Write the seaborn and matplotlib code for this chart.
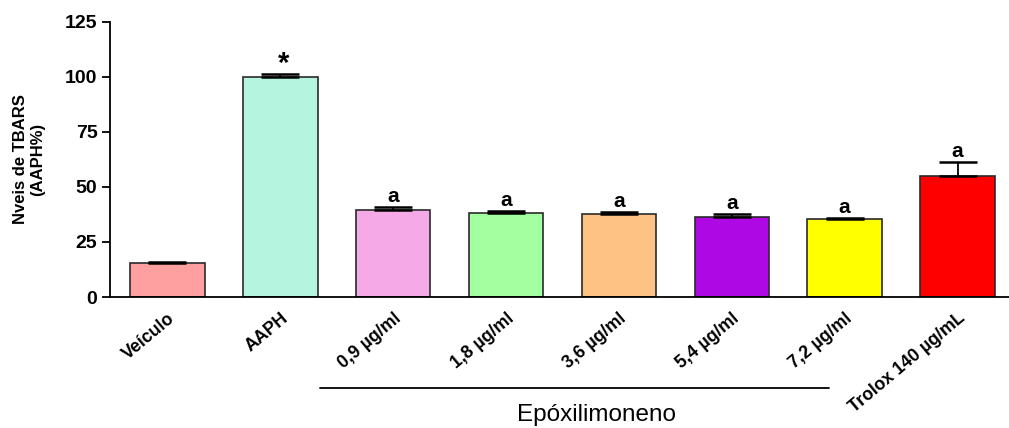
import matplotlib
matplotlib.use("Agg")
import matplotlib.pyplot as plt
import seaborn as sns
import pandas as pd

categories = ["Veículo", "AAPH", "0,9 µg/ml", "1,8 µg/ml", "3,6 µg/ml",
              "5,4 µg/ml", "7,2 µg/ml", "Trolox 140 µg/mL"]
means = [15.3, 99.8, 39.4, 38.2, 37.6, 36.5, 35.3, 55.0]
errors = [0.5, 1.3, 1.4, 0.9, 0.9, 1.2, 0.6, 6.4]
marks = ["", "*", "a", "a", "a", "a", "a", "a"]
colors = ["#FFA0A0", "#B5F5DF", "#F5A9E6", "#A3FF9F", "#FFC285",
          "#AE09E4", "#FFFF00", "#FF0000"]
yticks = [0, 25, 50, 75, 100, 125]
ylabel = "Nveis de TBARS\n(AAPH%)"
group_label = "Epóxilimoneno"

sns.set_theme(style="ticks")
plt.rcParams["font.family"] = ["Liberation Sans", "DejaVu Sans"]
plt.rcParams.update({"text.color": "black", "axes.labelcolor": "black",
                     "xtick.color": "black", "ytick.color": "black",
                     "axes.edgecolor": "black"})

df = pd.DataFrame({"group": categories, "value": means})

fig = plt.figure(figsize=(10.09, 4.28), dpi=100)
ax = fig.add_axes([0.109, 0.306, 0.891, 0.643])

sns.barplot(data=df, x="group", y="value", hue="group", palette=colors,
            legend=False, width=0.66, edgecolor="#2a2a2a", linewidth=1.2,
            ax=ax, errorbar=None, saturation=1)

xs = list(range(len(categories)))
ax.errorbar(xs, means, yerr=[[0] * len(errors), errors], fmt="none",
            ecolor="black", elinewidth=1.3, capsize=13.5, capthick=1.8, zorder=5)

for x, m, e, t in zip(xs, means, errors, marks):
    if t == "*":
        ax.text(x + 0.03, m + e - 1.5, t, ha="center", va="bottom",
                fontsize=21, fontweight="bold", color="black")
    elif t:
        ax.text(x, m + e + 0.6, t, ha="center", va="bottom",
                fontsize=15, fontweight="bold", color="black")

ax.set_xlim(-0.509, 7.456)
ax.set_ylim(0, 125)
ax.set_yticks(yticks)
ax.set_yticklabels([str(v) for v in yticks], fontsize=14, fontweight="bold")
ax.set_xticks(xs)
ax.set_xticklabels(categories, rotation=40, ha="right", rotation_mode="anchor",
                   fontsize=12.8, fontweight="bold")
ax.tick_params(axis="x", length=0, pad=9)
ax.tick_params(axis="y", length=6, width=1.3, pad=3)
ax.set_xlabel("")
ax.set_ylabel(ylabel, fontsize=12, fontweight="bold", labelpad=14)

sns.despine(ax=ax)
ax.spines["left"].set_linewidth(1.3)
ax.spines["bottom"].set_linewidth(1.3)

trans = ax.get_xaxis_transform()
ax.plot([1.35, 5.86], [-0.331, -0.331], transform=trans, color="black",
        lw=1.3, clip_on=False)
ax.text(3.80, -0.43, group_label, transform=trans, ha="center", va="center",
        fontsize=17.5, color="black")

fig.savefig("out.png", dpi=100)
